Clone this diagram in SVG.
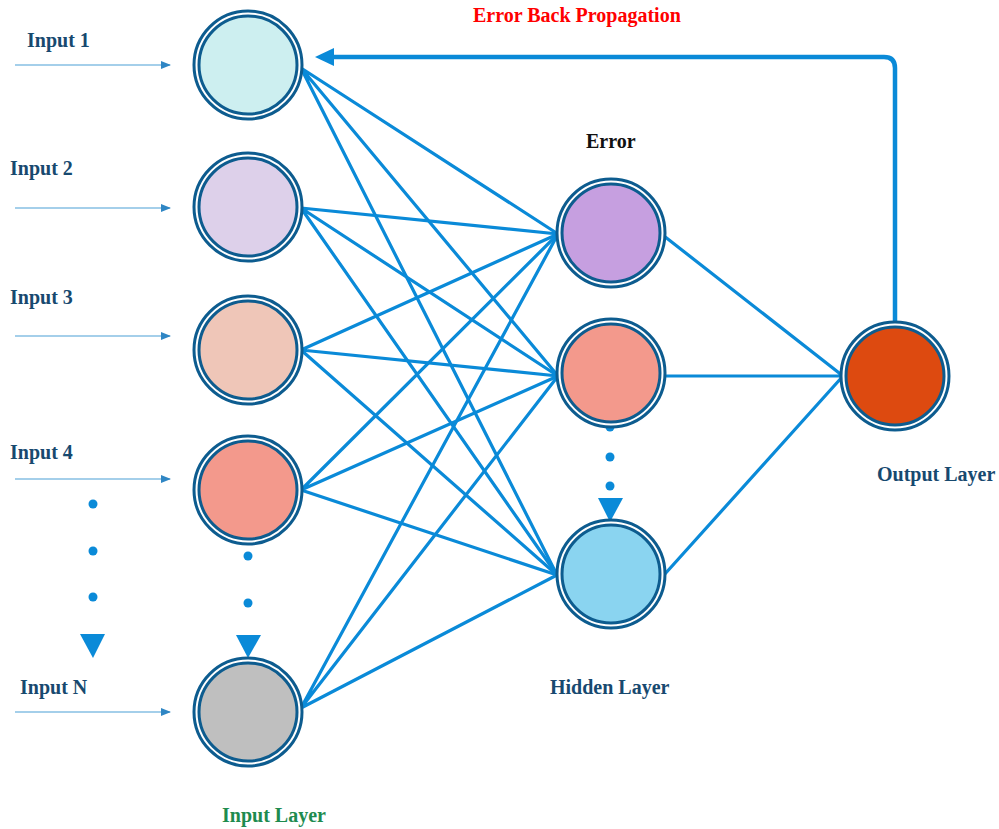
<svg xmlns="http://www.w3.org/2000/svg" width="999" height="829" viewBox="0 0 999 829">
<defs>
<marker id="inArrow" markerWidth="10" markerHeight="8" refX="9" refY="4" orient="auto" markerUnits="userSpaceOnUse">
<path d="M0,0 L10,4 L0,8 Z" fill="#2f86c4"/>
</marker>
<style>
.lbl{font-family:"Liberation Serif","Times New Roman",serif;font-weight:bold;font-size:20px;fill:#17496f}
.ring{fill:#ffffff;stroke:#0d5c8f;stroke-width:3}
.core{stroke:#0d5c8f;stroke-width:3}
.edge{stroke:#0a8ad8;stroke-width:3.2;fill:none;stroke-linecap:round}
.inp{stroke:#4b9fd6;stroke-width:1.2;fill:none}
.dot{fill:#0a8ad8}
</style>
</defs>
<rect width="999" height="829" fill="#ffffff"/>

<g id="connectors">
<!-- input arrows -->
<line class="inp" x1="15" y1="65" x2="170" y2="65" marker-end="url(#inArrow)"/>
<line class="inp" x1="15" y1="208" x2="170" y2="208" marker-end="url(#inArrow)"/>
<line class="inp" x1="15" y1="336" x2="170" y2="336" marker-end="url(#inArrow)"/>
<line class="inp" x1="15" y1="479" x2="170" y2="479" marker-end="url(#inArrow)"/>
<line class="inp" x1="15" y1="712" x2="170" y2="712" marker-end="url(#inArrow)"/>
<!-- input to hidden -->
<path class="edge" d="M301,68 L558,234 M301,68 L558,376 M301,68 L557,575"/>
<path class="edge" d="M301,208 L558,234 M301,208 L558,376 M301,208 L557,575"/>
<path class="edge" d="M301,350 L558,234 M301,350 L558,376 M301,350 L557,575"/>
<path class="edge" d="M301,490 L558,234 M301,490 L558,376 M301,490 L557,575"/>
<path class="edge" d="M301,708 L558,234 M301,708 L558,376 M301,708 L557,575"/>
<!-- hidden to output -->
<path class="edge" d="M664,236 L843,376 M664,376 L843,376 M664,575 L843,376"/>
<!-- back propagation -->
<path class="edge" style="stroke-width:4.5" d="M895,322 L895,68 Q895,57 884,57 L330,57"/>
<path d="M315,57 L334,48 L334,66 Z" fill="#0a8ad8"/>
<!-- ellipsis dots -->
<circle class="dot" cx="93" cy="504" r="4.5"/>
<circle class="dot" cx="93" cy="551" r="4.5"/>
<circle class="dot" cx="93" cy="597" r="4.5"/>
<path class="dot" d="M80,634 L105,634 L93,658 Z"/>
<circle class="dot" cx="248" cy="556" r="4.5"/>
<circle class="dot" cx="248" cy="603" r="4.5"/>
<path class="dot" d="M236,635 L261,635 L248,658 Z"/>
<circle class="dot" cx="610" cy="427" r="4.5"/>
<circle class="dot" cx="610" cy="457" r="4.5"/>
<circle class="dot" cx="610" cy="486" r="4.5"/>
<path class="dot" d="M598,498 L623,498 L610,522 Z"/>
</g>

<g id="in1"><circle class="ring" cx="248" cy="65" r="54"/><circle class="core" cx="248" cy="65" r="49" fill="#cdeff0"/></g>
<g id="in2"><circle class="ring" cx="248" cy="207" r="54"/><circle class="core" cx="248" cy="207" r="49" fill="#ddd0ea"/></g>
<g id="in3"><circle class="ring" cx="248" cy="350" r="54"/><circle class="core" cx="248" cy="350" r="49" fill="#efc6b8"/></g>
<g id="in4"><circle class="ring" cx="248" cy="490" r="54"/><circle class="core" cx="248" cy="490" r="49" fill="#f3998c"/></g>
<g id="inN"><circle class="ring" cx="248" cy="712" r="54"/><circle class="core" cx="248" cy="712" r="49" fill="#bfbfbf"/></g>

<g id="hid1"><circle class="ring" cx="611" cy="233" r="54"/><circle class="core" cx="611" cy="233" r="49" fill="#c69fe0"/></g>
<g id="hid2"><circle class="ring" cx="611" cy="373" r="54"/><circle class="core" cx="611" cy="373" r="49" fill="#f3998c"/></g>
<g id="hid3"><circle class="ring" cx="611" cy="574" r="54"/><circle class="core" cx="611" cy="574" r="49" fill="#8ad4f0"/></g>

<g id="out"><circle class="ring" cx="895" cy="376" r="54"/><circle class="core" cx="895" cy="376" r="49" fill="#dd4a10"/></g>

<g id="labels">
<text class="lbl" x="27" y="47">Input 1</text>
<text class="lbl" x="10" y="175">Input 2</text>
<text class="lbl" x="10" y="304">Input 3</text>
<text class="lbl" x="10" y="459">Input 4</text>
<text class="lbl" x="20" y="694">Input N</text>
<text class="lbl" x="586" y="148" style="fill:#111111">Error</text>
<text class="lbl" x="550" y="694">Hidden Layer</text>
<text class="lbl" x="877" y="481">Output Layer</text>
<text class="lbl" x="222" y="822" style="fill:#1e8b4f">Input Layer</text>
<text class="lbl" x="473" y="22" style="fill:#ff0000">Error Back Propagation</text>
</g>
</svg>
